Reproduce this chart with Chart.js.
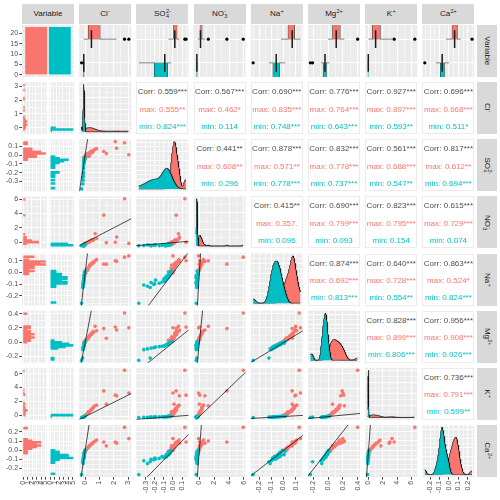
<!DOCTYPE html>
<html>
<head>
<meta charset="utf-8">
<script src="https://cdn.jsdelivr.net/npm/chart.js@4.4.1/dist/chart.umd.min.js"></script>
<style>
html,body{margin:0;padding:0;background:#fff}
#wrap{position:relative;width:500px;height:500px;overflow:hidden;background:#fff;font-family:"Liberation Sans",Arial,Helvetica,sans-serif}
#wrap canvas{position:absolute}
.strip{position:absolute;background:#D9D9D9;color:#1A1A1A;font-size:8px;white-space:nowrap;overflow:hidden}
.strip .in{position:absolute;display:flex;align-items:center;justify-content:center}
.ss{display:inline-block;vertical-align:middle;font-size:5.5px;line-height:5px;margin-left:0.3px;text-align:left}
.ss span{display:block;height:5px}
.cor{position:absolute;background:#fff;box-sizing:border-box;border:1px solid #EBEBEB;font-size:8px}
.cor div{position:absolute;left:0;right:0;text-align:center;white-space:nowrap;line-height:9px}
</style>
</head>
<body>
<div id="wrap"></div>
<script>
// ---------------- DATA ----------------
const groups = ["max", "min"];
const clMax  = [2.75, 3.05, 2.10, 2.20, 1.30, 1.48, -0.10, 0.00, 0.05, 0.10, 0.15, 0.20, 0.22, 0.27, 0.30, 0.35, 0.40, 0.44, 0.50, 0.55, 0.60, 0.70, 0.80];
const clMin  = [-0.25, -0.17, -0.16, -0.14, -0.13, -0.125, -0.12, -0.115, -0.11, -0.105, -0.10, -0.095, -0.09, -0.085, -0.08, -0.075, -0.07, -0.065, -0.06, -0.05, -0.04, -0.03, -0.01];
const so4Max = [0.13, 0.00, 0.143, 0.07, 0.035, 0.012, -0.03, -0.05, 0.00, -0.01, 0.01, -0.02, 0.005, 0.02, -0.015, 0.03, 0.015, 0.04, 0.025, 0.035, 0.05, 0.06, 0.066];
const so4Min = [-0.375, -0.25, -0.32, -0.28, -0.24, -0.21, -0.20, -0.19, -0.15, -0.12, -0.10, -0.09, -0.085, -0.08, -0.075, -0.07, -0.06, -0.055, -0.05, -0.045, -0.04, -0.03, -0.02];
const no3Max = [5.90, -0.10, 0.05, 0.75, 3.70, 0.00, -0.20, -0.10, -0.15, 0.00, -0.05, 0.05, 0.02, 0.15, 0.10, 0.20, 0.30, 0.25, 0.35, 0.30, 0.40, 1.20, 0.55];
const no3Min = [-0.42, -0.35, -0.38, -0.30, -0.44, -0.33, -0.36, -0.29, -0.40, -0.34, -0.27, -0.37, -0.31, -0.46, -0.32, -0.25, -0.39, -0.34, -0.28, -0.22, -0.35, -0.18, -0.30];
const naMax  = [0.13, 0.14, 0.10, 0.095, 0.072, 0.072, -0.02, 0.01, 0.00, 0.03, 0.02, 0.04, 0.035, 0.05, 0.065, 0.06, 0.07, 0.08, 0.075, 0.09, 0.085, 0.10, 0.11];
const naMin  = [-0.25, -0.12, -0.10, -0.11, -0.08, -0.095, -0.09, -0.06, -0.085, -0.075, -0.05, -0.07, -0.065, -0.035, -0.055, -0.045, -0.02, -0.04, -0.03, 0.005, -0.025, -0.01, 0.015];
const mgMax  = [0.40, 0.20, 0.21, 0.17, 0.19, 0.06, 0.00, 0.03, 0.02, 0.04, 0.06, 0.05, 0.07, 0.09, 0.08, 0.10, 0.12, 0.11, 0.13, 0.15, 0.14, 0.22, 0.16];
const mgMin  = [-0.24, -0.21, -0.095, -0.085, -0.075, -0.07, -0.065, -0.06, -0.055, -0.05, -0.045, -0.042, -0.04, -0.035, -0.03, -0.027, -0.024, -0.02, -0.015, -0.01, -0.005, 0.005, 0.017];
const kMax   = [6.50, 3.30, 3.00, 2.90, 3.60, 1.74, 0.00, 0.10, 0.20, 0.30, 0.40, 0.50, 0.65, 0.60, 0.70, 0.80, 0.90, 1.00, 1.10, 1.20, 1.40, 1.50, 1.60];
const kMin   = [-0.13, -0.08, -0.10, -0.09, -0.07, -0.08, -0.06, -0.05, -0.05, -0.04, -0.04, -0.03, -0.03, -0.02, -0.02, -0.01, -0.01, 0.00, 0.00, 0.01, 0.02, 0.03, 0.05];
const caMax  = [0.245, 0.125, 0.09, 0.077, 0.09, 0.048, -0.03, -0.01, 0.00, 0.01, 0.02, 0.03, 0.035, 0.04, 0.05, 0.055, 0.06, 0.07, 0.075, 0.08, 0.09, 0.10, 0.11];
const caMin  = [-0.257, -0.12, -0.11, -0.14, -0.095, -0.10, -0.08, -0.09, -0.085, -0.065, -0.078, -0.075, -0.06, -0.072, -0.07, -0.04, -0.055, -0.05, -0.02, -0.045, -0.03, 0.00, -0.01];

// tick labels
const tickCl    = ["0", "1", "2", "3"];
const tickSO4   = ["-0.3", "-0.2", "-0.1", "0.0", "0.1"];
const tickNO3   = ["0", "2", "4", "6"];
const tickNa    = ["-0.2", "-0.1", "0.0", "0.1"];
const tickMg    = ["-0.2", "0.0", "0.2", "0.4"];
const tickK     = ["0", "2", "4", "6"];
const tickCa    = ["-0.2", "-0.1", "0.0", "0.1", "0.2"];
const tickCount = ["0", "5", "10", "15", "20"];

// correlation labels (upper triangle, row by row)
const corrAll = ["0.559***","0.567***","0.690***","0.776***","0.927***","0.696***","0.441**","0.878***","0.832***","0.561***","0.817***","0.415**","0.690***","0.823***","0.615***","0.874***","0.640***","0.863***","0.828***","0.956***","0.736***"];
const corrMax = ["0.555**","0.462*","0.835***","0.764***","0.897***","0.668***","0.608**","0.571**","0.778***","0.688***","0.612**","0.357.","0.799***","0.795***","0.729***","0.692***","0.728***","0.524*","0.899***","0.908***","0.791***"];
const corrMin = ["0.824***","0.114","0.748***","0.643***","0.593**","0.511*","0.296","0.778***","0.737***","0.547**","0.694***","0.096","0.093","0.154","0.074","0.813***","0.554**","0.824***","0.806***","0.926***","0.599**"];

// ---------------- LAYOUT / STYLE ----------------
const PX0 = 22, PY0 = 25, SX = 57.2, SY = 57.14, PW = 52, PH = 52;
const px = c => PX0 + c * SX, py = r => PY0 + r * SY;
const RED = '#F8766D', TEAL = '#00BFC4', GCOL = [RED, TEAL];
const FONT = "'Liberation Sans', Arial, Helvetica, sans-serif";
Chart.defaults.font.family = FONT;
Chart.defaults.font.size = 7;
Chart.defaults.color = '#4D4D4D';
Chart.register({id:'panelBg', beforeDraw(ch, args, o){ const a = ch.chartArea, c = ch.ctx; c.save(); c.fillStyle = o.color || '#EBEBEB'; c.fillRect(a.left, a.top, a.right - a.left, a.bottom - a.top); c.restore(); }});

function chem(base, sub, sup){ if(!sub && !sup) return base; return base + '<span class="ss"><span>' + (sup || '&nbsp;') + '</span><span>' + (sub || '&nbsp;') + '</span></span>'; }

// ---------------- helpers ----------------
const sortNum = a => a.slice().sort((x, y) => x - y);
function q7(s, p){ const h = (s.length - 1) * p, l = Math.floor(h), u = Math.min(l + 1, s.length - 1); return s[l] + (h - l) * (s[u] - s[l]); }
function boxStats(a){ const s = sortNum(a); const q1 = q7(s, .25), med = q7(s, .5), q3 = q7(s, .75), i = q3 - q1; const lf = q1 - 1.5 * i, uf = q3 + 1.5 * i; const ins = s.filter(v => v >= lf && v <= uf); return {q1, med, q3, lo: ins[0], hi: ins[ins.length - 1], out: s.filter(v => v < lf || v > uf)}; }
function sd(a){ const m = a.reduce((x, y) => x + y, 0) / a.length; return Math.sqrt(a.reduce((x, y) => x + (y - m) * (y - m), 0) / (a.length - 1)); }
function bwNrd0(a){ const s = sortNum(a); const h = sd(a); const iq = q7(s, .75) - q7(s, .25); let lo = Math.min(h, iq / 1.34); if(!(lo > 0)) lo = h || Math.abs(s[0]) || 1; return 0.9 * lo * Math.pow(a.length, -0.2); }
function kde(a, from, to, n){ const h = bwNrd0(a); const out = []; const k = 1 / (a.length * h * Math.sqrt(2 * Math.PI)); for(let i = 0; i < n; i++){ const x = from + (to - from) * i / (n - 1); let s = 0; for(const v of a){ const z = (x - v) / h; s += Math.exp(-0.5 * z * z); } out.push({x, y: s * k}); } return out; }
function pretty(lo, hi){ const raw = (hi - lo) / 4; const p = Math.pow(10, Math.floor(Math.log10(raw))); let best = p, bd = 1e9; for(const m of [1, 2, 5, 10]){ const d = Math.abs(Math.log(m * p / raw)); if(d < bd){ bd = d; best = m * p; } } const out = []; for(let v = Math.ceil(lo / best - 1e-9) * best; v <= hi + 1e-9; v += best) out.push(Math.round(v / best) * best); return out; }
function minorsOf(maj, min, max){ if(maj.length < 2) return []; const st = maj[1] - maj[0]; const out = []; for(let v = maj[0] - st / 2; v <= max + 1e-12; v += st) if(v >= min && !maj.some(m => Math.abs(m - v) < 1e-9)) out.push(v); return out; }

function axisCfg(pos, min, max, majors, minors, labels, size){
  const show = size > 0;
  const all = majors.concat(minors).filter(v => v >= min - 1e-9 && v <= max + 1e-9).sort((a, b) => a - b);
  const isMaj = v => majors.some(m => Math.abs(m - v) < 1e-9);
  return {
    type: 'linear', position: pos, min, max, offset: false, beginAtZero: false,
    afterBuildTicks: s => { s.ticks = all.map(v => ({value: v})); },
    afterFit: s => { if(pos === 'bottom') s.height = size; else s.width = size; s.paddingLeft = 0; s.paddingRight = 0; s.paddingTop = 0; s.paddingBottom = 0; },
    grid: {display: true, drawOnChartArea: true, offset: false, color: '#FFFFFF',
      lineWidth: c => (c.tick && isMaj(c.tick.value)) ? 1.0 : 0.5,
      drawTicks: show, tickLength: 2.7, tickWidth: 0.9,
      tickColor: c => (c.tick && isMaj(c.tick.value)) ? '#333333' : 'rgba(0,0,0,0)'},
    border: {display: false},
    ticks: {display: show, autoSkip: false, padding: 1.2, color: '#4D4D4D', font: {size: 7, family: FONT},
      minRotation: pos === 'bottom' ? 90 : 0, maxRotation: pos === 'bottom' ? 90 : 0,
      callback: v => { const i = majors.findIndex(m => Math.abs(m - v) < 1e-9); return (i >= 0 && labels) ? labels[i] : ''; }}
  };
}

const wrap = document.getElementById('wrap');
function mk(x0, y0, x1, y1, axL, axB, scales, datasets, bg){
  const M = 8;
  const L = axL ? Math.max(0, Math.floor(x0 - axL)) : Math.floor(x0) - M;
  const R = Math.ceil(x1) + M, T = Math.floor(y0) - M;
  const B = axB ? Math.ceil(y1 + axB) : Math.ceil(y1) + M;
  const cv = document.createElement('canvas'); cv.width = R - L; cv.height = B - T;
  Object.assign(cv.style, {left: L + 'px', top: T + 'px', width: (R - L) + 'px', height: (B - T) + 'px'});
  wrap.appendChild(cv);
  return new Chart(cv, {type: 'scatter', data: {datasets}, options: {
    responsive: false, animation: false, events: [],
    layout: {autoPadding: false, padding: {left: axL ? x0 - axL - L : x0 - L, right: R - x1, top: y0 - T, bottom: axB ? B - y1 - axB : B - y1}},
    scales, plugins: {legend: {display: false}, tooltip: {enabled: false}, panelBg: {color: bg || '#EBEBEB'}}}});
}

// variables
const VARS = [
  {lab: chem('Cl', '', '-'),   g: [clMax, clMin],   ticks: tickCl},
  {lab: chem('SO', '4', '2-'), g: [so4Max, so4Min], ticks: tickSO4},
  {lab: chem('NO', '3', '-'),  g: [no3Max, no3Min], ticks: tickNO3},
  {lab: chem('Na', '', '+'),   g: [naMax, naMin],   ticks: tickNa},
  {lab: chem('Mg', '', '2+'),  g: [mgMax, mgMin],   ticks: tickMg},
  {lab: chem('K', '', '+'),    g: [kMax, kMin],     ticks: tickK},
  {lab: chem('Ca', '', '2+'),  g: [caMax, caMin],   ticks: tickCa}
];
VARS.forEach(v => {
  v.all = v.g[0].concat(v.g[1]); v.lo = Math.min(...v.all); v.hi = Math.max(...v.all);
  const d = v.hi - v.lo; v.rmin = v.lo - 0.05 * d; v.rmax = v.hi + 0.05 * d;
  v.majors = v.ticks.map(Number); v.minors = minorsOf(v.majors, v.rmin, v.rmax);
});
const varAxis = (v, pos, size) => axisCfg(pos, v.rmin, v.rmax, v.majors, v.minors, v.ticks, size);
const AXB = 500 - (py(7) + PH);

// ---------------- strips ----------------
const stripLabels = ['Variable'].concat(VARS.map(v => v.lab));
for(let i = 0; i < 8; i++){
  const s = document.createElement('div'); s.className = 'strip';
  Object.assign(s.style, {left: px(i) + 'px', top: '4px', width: PW + 'px', height: '19.5px'});
  s.innerHTML = '<div class="in" style="left:0;top:0;width:' + PW + 'px;height:19.5px">' + stripLabels[i] + '</div>';
  wrap.appendChild(s);
  const r = document.createElement('div'); r.className = 'strip';
  Object.assign(r.style, {left: '477px', top: py(i) + 'px', width: '19.5px', height: PH + 'px'});
  r.innerHTML = '<div class="in" style="left:' + ((19.5 - PH) / 2) + 'px;top:' + ((PH - 19.5) / 2) + 'px;width:' + PH + 'px;height:19.5px;transform:rotate(90deg)">' + stripLabels[i] + '</div>';
  wrap.appendChild(r);
}

// ---------------- panels ----------------
const nGroup = [clMax.length, clMin.length];
for(let r = 0; r < 8; r++){
  for(let c = 0; c < 8; c++){
    const x0 = px(c), y0 = py(r), x1 = x0 + PW, y1 = y0 + PH;
    const axL = c === 0 ? x0 : 0, axB = r === 7 ? AXB : 0;
    if(r === 0 && c === 0){
      const N = Math.max(...nGroup);
      const maj = tickCount.map(Number);
      mk(x0, y0, x1, y1, axL, 0, {
        x: axisCfg('bottom', 0.4, 2.6, [1, 2], [], null, 0),
        y: axisCfg('left', -0.05 * N, 1.05 * N, maj, minorsOf(maj, -0.05 * N, 1.05 * N), tickCount, axL)
      }, [{type: 'bar', data: [{x: 1, y: nGroup[0]}, {x: 2, y: nGroup[1]}], backgroundColor: GCOL, borderWidth: 0, barThickness: 0.9 * PW / 2.2}]);
    } else if(r === 0){
      const v = VARS[c - 1];
      const h = 0.375, ds = [];
      [0, 1].forEach(g => {
        const b = boxStats(v.g[g]); const yy = g === 0 ? 2 : 1;
        ds.push({type: 'line', data: [{x: b.lo, y: yy}, {x: b.q1, y: yy}], borderColor: '#333333', borderWidth: 0.6, pointRadius: 0, showLine: true, order: 3});
        ds.push({type: 'line', data: [{x: b.q3, y: yy}, {x: b.hi, y: yy}], borderColor: '#333333', borderWidth: 0.6, pointRadius: 0, showLine: true, order: 3});
        ds.push({type: 'bar', indexAxis: 'y', data: [{x: [b.q1, b.q3], y: yy}], backgroundColor: GCOL[g], borderColor: '#333333', borderWidth: 0.6, borderSkipped: false, barThickness: 2 * h * PH / 2.2, order: 2});
        ds.push({type: 'line', data: [{x: b.med, y: yy - h}, {x: b.med, y: yy + h}], borderColor: '#1A1A1A', borderWidth: 1.5, pointRadius: 0, showLine: true, order: 1});
        ds.push({type: 'scatter', data: b.out.map(o => ({x: o, y: yy})), backgroundColor: '#000000', pointRadius: 1.6, borderWidth: 0, order: 0});
      });
      mk(x0, y0, x1, y1, 0, 0, {x: varAxis(v, 'bottom', 0), y: axisCfg('left', 0.4, 2.6, [1, 2], [], null, 0)}, ds);
    } else if(c === 0){
      const v = VARS[r - 1];
      const w = (v.hi - v.lo) / 29; const origin = w / 2 + Math.floor((v.lo - w / 2) / w) * w;
      const br = []; for(let b = origin; b <= v.hi + (1 - 1e-8) * w; b += w) br.push(b);
      const counts = [0, 1].map(g => { const cnt = new Array(br.length - 1).fill(0); v.g[g].forEach(val => { for(let k = 0; k < br.length - 1; k++){ if((val > br[k] || (k === 0 && val >= br[k])) && val <= br[k + 1] + 1e-12){ cnt[k]++; break; } } }); return cnt; });
      const M = Math.max(...counts[0], ...counts[1]);
      const bmin = br[0], bmax = br[br.length - 1], bd = bmax - bmin;
      const ymin = bmin - 0.05 * bd, ymax = bmax + 0.05 * bd;
      const cmaj = pretty(0, M).filter(t => t <= 1.05 * M);
      const cmin = minorsOf(cmaj, -0.05 * M, 1.05 * M);
      const gap = 2.7, sw = (PW - gap) / 2;
      [0, 1].forEach(g => {
        const sx0 = x0 + g * (sw + gap), sx1 = sx0 + sw;
        const data = []; counts[g].forEach((n, k) => { if(n > 0) data.push({x: n, y: (br[k] + br[k + 1]) / 2}); });
        mk(sx0, y0, sx1, y1, g === 0 ? sx0 : 0, axB, {
          x: axisCfg('bottom', -0.05 * M, 1.05 * M, cmaj, cmin, cmaj.map(String), axB),
          y: axisCfg('left', ymin, ymax, v.majors, minorsOf(v.majors, ymin, ymax), v.ticks, g === 0 ? sx0 : 0)
        }, [{type: 'bar', indexAxis: 'y', data, backgroundColor: GCOL[g], borderWidth: 0, barThickness: w * PH / (ymax - ymin) + 0.3}]);
      });
    } else if(r === c){
      const v = VARS[r - 1];
      const dens = [0, 1].map(g => kde(v.g[g], v.lo, v.hi, 256));
      const M = Math.max(...dens[0].map(p => p.y), ...dens[1].map(p => p.y));
      const dmaj = pretty(0, M);
      mk(x0, y0, x1, y1, 0, axB, {
        x: varAxis(v, 'bottom', axB),
        y: axisCfg('left', -0.05 * M, 1.05 * M, dmaj, minorsOf(dmaj, -0.05 * M, 1.05 * M), null, 0)
      }, [0, 1].map(g => ({type: 'line', data: dens[g], fill: 'origin', backgroundColor: GCOL[g], borderColor: '#000000', borderWidth: 0.6, pointRadius: 0, showLine: true, clip: 0, order: g === 0 ? 2 : 1})));
    } else if(r < c){
      const i = r - 1, j = c - 1;
      const idx = i * 7 - (i * (i + 1)) / 2 + (j - i - 1);
      const d = document.createElement('div'); d.className = 'cor';
      Object.assign(d.style, {left: x0 + 'px', top: y0 + 'px', width: PW + 'px', height: PH + 'px'});
      [['Corr: ' + corrAll[idx], '#4D4D4D', 0.165], [groups[0] + ': ' + corrMax[idx], RED, 0.5], [groups[1] + ': ' + corrMin[idx], TEAL, 0.83]].forEach(t => {
        const e = document.createElement('div'); e.textContent = t[0]; e.style.color = t[1]; e.style.top = (PH * t[2] - 4.5) + 'px'; d.appendChild(e);
      });
      wrap.appendChild(d);
    } else {
      const vx = VARS[c - 1], vy = VARS[r - 1];
      const ds = [0, 1].map(g => ({type: 'scatter', data: vx.g[g].map((xv, k) => ({x: xv, y: vy.g[g][k]})), backgroundColor: GCOL[g], pointRadius: 1.8, borderWidth: 0, clip: 0, order: g === 0 ? 2 : 1}));
      // 1:1 reference line (y = x), clipped to the panel
      const lo = Math.min(vx.rmin, vy.rmin), hi = Math.max(vx.rmax, vy.rmax);
      ds.push({type: 'line', data: [{x: lo, y: lo}, {x: hi, y: hi}], borderColor: '#000000', borderWidth: 0.7, pointRadius: 0, showLine: true, clip: 0, order: 0});
      mk(x0, y0, x1, y1, axL, axB, {x: varAxis(vx, 'bottom', axB), y: varAxis(vy, 'left', axL)}, ds);
    }
  }
}
</script>
</body>
</html>
